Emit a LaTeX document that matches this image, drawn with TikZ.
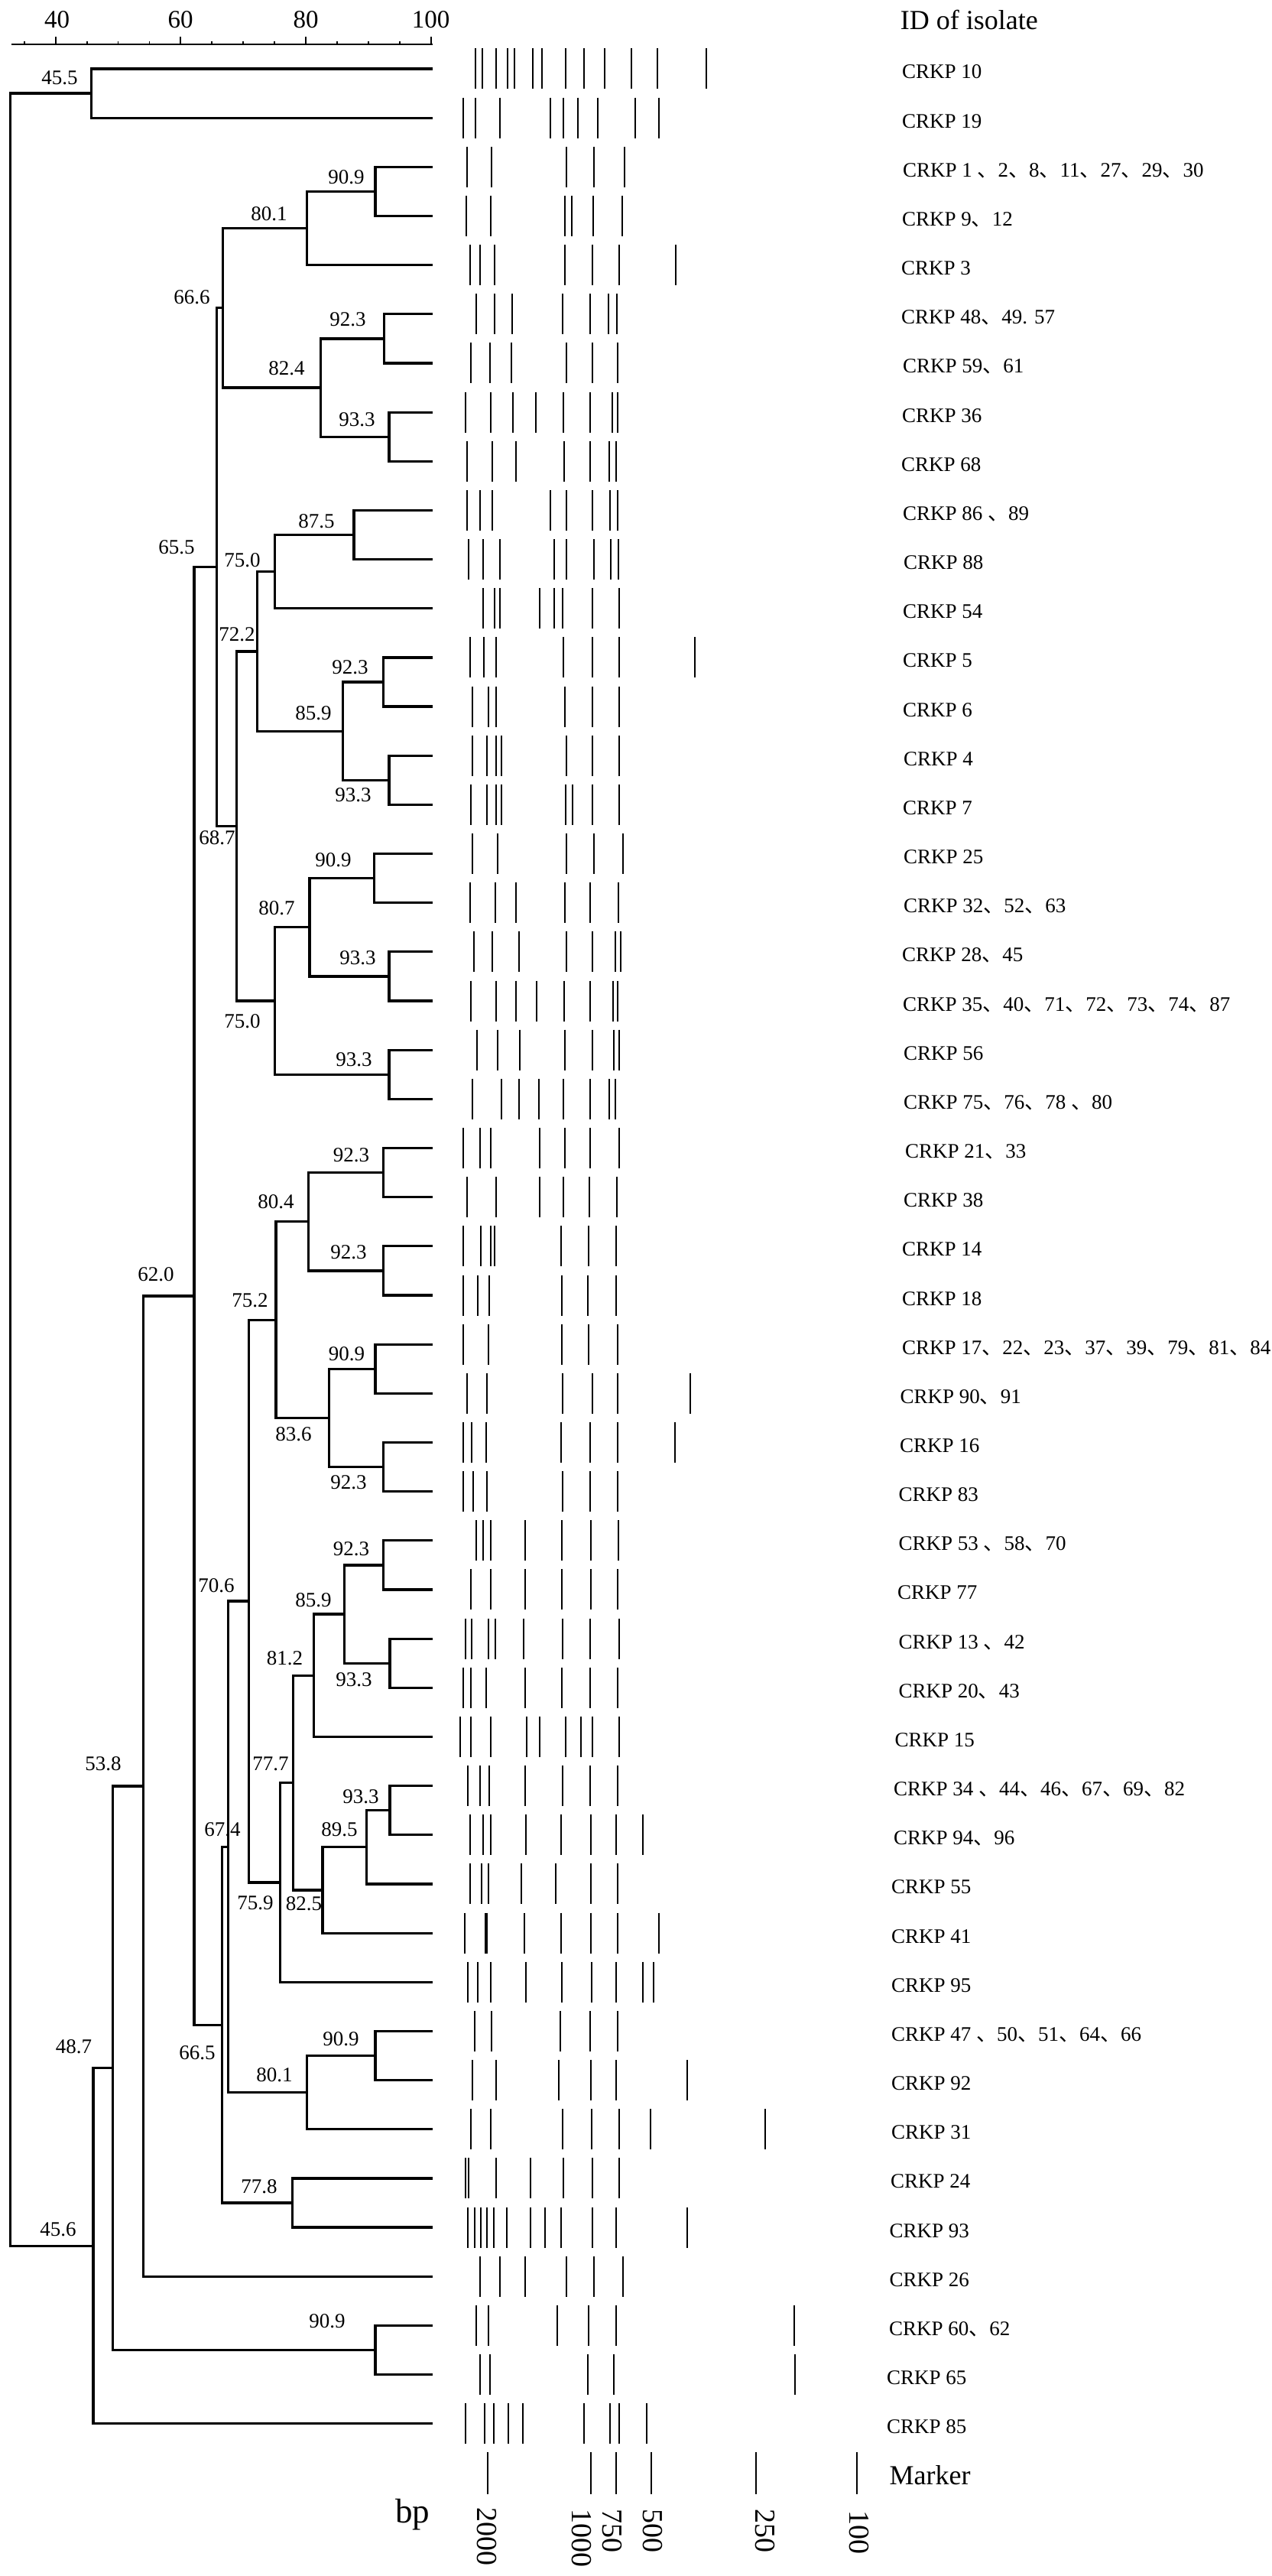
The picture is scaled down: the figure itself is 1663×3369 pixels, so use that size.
\documentclass[tikz,border=0pt]{standalone}
\usepackage{fontspec}
\setmainfont{Liberation Serif}
\newfontfamily\cjkfont{Noto Sans CJK SC}
\newcommand\dunhao{{\cjkfont 、}}
\newcommand\dgjoin[3]{\draw[tree] (#2) -| (#1 |- #3) -- (#3);}
\begin{document}
\begin{tikzpicture}[x=1pt,y=-1pt,
  tree/.style={line width=3.2pt,line join=miter},
  band/.style={line width=2pt},
  axisline/.style={line width=2pt},
  tick/.style={line width=1.8pt},
  simlab/.style={font=\fontsize{27}{30}\selectfont,inner sep=0pt},
  leaflab/.style={font=\fontsize{27}{30}\selectfont,inner sep=0pt,anchor=base west},
  axlab/.style={font=\fontsize{33}{36}\selectfont,inner sep=0pt,anchor=base},
  bplab/.style={font=\fontsize{38}{40}\selectfont,inner sep=0pt,anchor=west,rotate=-90}]
\useasboundingbox (0,0) rectangle (1663,3369);

% ---------- scale axis ----------
\draw[axisline] (14.5,58.2) -- (565.6,58.2);
\foreach \v in {35,45,50,55,65,70,75,85,90,95}
  \draw[tick] ({72.7+(\v-40)*8.183},53.8) -- ({72.7+(\v-40)*8.183},58.2);
\foreach \v in {40,60,80,100}
  \draw[tick] ({72.7+(\v-40)*8.183},48.3) -- ({72.7+(\v-40)*8.183},58.2);
\node[axlab] (ax40) at (74.6,36.4) {40};
\node[axlab] (ax60) at (236,36.4) {60};
\node[axlab] (ax80) at (400,36.4) {80};
\node[axlab] (ax100) at (563.5,36.4) {100};

% ---------- leaf ends ----------
\foreach \i in {1,...,49}
  \coordinate (e\i) at (566,{90+(\i-1)*64.16});

% ---------- internal nodes ----------
\coordinate (nP) at (491,250.4);
\coordinate (nO) at (401.8,298.5);
\coordinate (nR) at (502.5,442.9);
\coordinate (nS) at (509,571.2);
\coordinate (nQ) at (419.8,507.05);
\coordinate (nG) at (291.6,402.8);
\coordinate (nK) at (463,699.5);
\coordinate (nJ) at (359.7,747.65);
\coordinate (nM) at (501.3,892);
\coordinate (nN) at (509,1020.3);
\coordinate (nL) at (448.5,956.15);
\coordinate (nI) at (336.8,851.9);
\coordinate (nV) at (489.8,1148.65);
\coordinate (nW) at (509,1276.95);
\coordinate (nU) at (404.9,1212.8);
\coordinate (nX) at (509,1405.3);
\coordinate (nT) at (359.7,1309.05);
\coordinate (nH) at (309.2,1080.5);
\coordinate (nF) at (283.2,741.65);
\coordinate (nCa) at (501.3,1533.6);
\coordinate (nCb) at (501.3,1661.9);
\coordinate (nCC) at (403.7,1597.75);
\coordinate (nDa) at (491,1790.25);
\coordinate (nDb) at (501.3,1918.55);
\coordinate (nDD) at (430.5,1854.4);
\coordinate (nBB) at (360.9,1726.1);
\coordinate (nHa) at (501.3,2046.9);
\coordinate (nHb) at (510,2175.2);
\coordinate (nHH) at (450.4,2111.05);
\coordinate (nGG) at (410.2,2191.2);
\coordinate (nJa) at (510,2367.7);
\coordinate (nJJ) at (479.5,2415.8);
\coordinate (nII) at (422,2471.95);
\coordinate (nFF) at (383.5,2331.6);
\coordinate (nEE) at (366.6,2461.9);
\coordinate (nAA) at (325.3,2094);
\coordinate (nNa) at (491,2688.5);
\coordinate (nNe) at (401.8,2736.6);
\coordinate (nZ) at (298.5,2415.3);
\coordinate (nNf) at (382.7,2881);
\coordinate (nY) at (290.5,2648.2);
\coordinate (nE) at (254,1694.9);
\coordinate (nD) at (187.5,2336);
\coordinate (nNg) at (491,3073.5);
\coordinate (nC) at (147.3,2704.75);
\coordinate (nB) at (122,2937.2);
\coordinate (nA) at (119.4,122.1);
\coordinate (nRoot) at (13.4,1529.65);

% ---------- dendrogram ----------
\dgjoin{nRoot}{nA}{nB}
\dgjoin{nA}{e1}{e2}
\dgjoin{nB}{nC}{e49}
\dgjoin{nC}{nD}{nNg}
\dgjoin{nNg}{e47}{e48}
\dgjoin{nD}{nE}{e46}
\dgjoin{nE}{nF}{nY}
\dgjoin{nF}{nG}{nH}
\dgjoin{nG}{nO}{nQ}
\dgjoin{nO}{nP}{e5}
\dgjoin{nP}{e3}{e4}
\dgjoin{nQ}{nR}{nS}
\dgjoin{nR}{e6}{e7}
\dgjoin{nS}{e8}{e9}
\dgjoin{nH}{nI}{nT}
\dgjoin{nI}{nJ}{nL}
\dgjoin{nJ}{nK}{e12}
\dgjoin{nK}{e10}{e11}
\dgjoin{nL}{nM}{nN}
\dgjoin{nM}{e13}{e14}
\dgjoin{nN}{e15}{e16}
\dgjoin{nT}{nU}{nX}
\dgjoin{nU}{nV}{nW}
\dgjoin{nV}{e17}{e18}
\dgjoin{nW}{e19}{e20}
\dgjoin{nX}{e21}{e22}
\dgjoin{nY}{nZ}{nNf}
\dgjoin{nNf}{e44}{e45}
\dgjoin{nZ}{nAA}{nNe}
\dgjoin{nNe}{nNa}{e43}
\dgjoin{nNa}{e41}{e42}
\dgjoin{nAA}{nBB}{nEE}
\dgjoin{nBB}{nCC}{nDD}
\dgjoin{nCC}{nCa}{nCb}
\dgjoin{nCa}{e23}{e24}
\dgjoin{nCb}{e25}{e26}
\dgjoin{nDD}{nDa}{nDb}
\dgjoin{nDa}{e27}{e28}
\dgjoin{nDb}{e29}{e30}
\dgjoin{nEE}{nFF}{e40}
\dgjoin{nFF}{nGG}{nII}
\dgjoin{nGG}{nHH}{e35}
\dgjoin{nHH}{nHa}{nHb}
\dgjoin{nHa}{e31}{e32}
\dgjoin{nHb}{e33}{e34}
\dgjoin{nII}{nJJ}{e39}
\dgjoin{nJJ}{nJa}{e38}
\dgjoin{nJa}{e36}{e37}

% ---------- similarity values ----------
\node[simlab] (s1) at (78,102) {45.5};
\node[simlab] (s2) at (76,2916) {45.6};
\node[simlab] (s3) at (96.6,2676.5) {48.7};
\node[simlab] (s4) at (135,2307) {53.8};
\node[simlab] (s5) at (204,1667) {62.0};
\node[simlab] (s6) at (231,716) {65.5};
\node[simlab] (s7) at (251,389) {66.6};
\node[simlab] (s8) at (352,280) {80.1};
\node[simlab] (s9) at (453,232) {90.9};
\node[simlab] (s10) at (375,482) {82.4};
\node[simlab] (s11) at (455,418) {92.3};
\node[simlab] (s12) at (467,549) {93.3};
\node[simlab] (s13) at (414,682) {87.5};
\node[simlab] (s14) at (317,733) {75.0};
\node[simlab] (s15) at (310,830) {72.2};
\node[simlab] (s16) at (458,873) {92.3};
\node[simlab] (s17) at (410,933) {85.9};
\node[simlab] (s18) at (462,1040) {93.3};
\node[simlab] (s19) at (284,1096) {68.7};
\node[simlab] (s20) at (436,1124.5) {90.9};
\node[simlab] (s21) at (362,1188) {80.7};
\node[simlab] (s22) at (468,1253) {93.3};
\node[simlab] (s23) at (317,1336) {75.0};
\node[simlab] (s24) at (463,1386) {93.3};
\node[simlab] (s25) at (459.5,1511) {92.3};
\node[simlab] (s26) at (361,1572) {80.4};
\node[simlab] (s27) at (456,1637.5) {92.3};
\node[simlab] (s28) at (327,1701) {75.2};
\node[simlab] (s29) at (453.5,1771) {90.9};
\node[simlab] (s30) at (384,1876) {83.6};
\node[simlab] (s31) at (456,1939) {92.3};
\node[simlab] (s32) at (459.6,2026) {92.3};
\node[simlab] (s33) at (283,2074) {70.6};
\node[simlab] (s34) at (410,2093) {85.9};
\node[simlab] (s35) at (372.5,2169) {81.2};
\node[simlab] (s36) at (463,2196.5) {93.3};
\node[simlab] (s37) at (354,2307) {77.7};
\node[simlab] (s38) at (472,2349.5) {93.3};
\node[simlab] (s39) at (444,2393) {89.5};
\node[simlab] (s40) at (291,2393) {67.4};
\node[simlab] (s41) at (334,2488.5) {75.9};
\node[simlab] (s42) at (397.5,2490) {82.5};
\node[simlab] (s43) at (446,2666.5) {90.9};
\node[simlab] (s44) at (258,2685) {66.5};
\node[simlab] (s45) at (359,2714) {80.1};
\node[simlab] (s46) at (339,2860) {77.8};
\node[simlab] (s47) at (428,3036) {90.9};

% ---------- gel bands ----------
\foreach \r/\bl in {
 1/{88,101,126,148,161,195,212,256,290,328,378,427,518},
 2/{66,88,133,228,252,278,316,385,430},
 3/{73,118,258,308,365},
 4/{71,117,255,267,307,361},
 5/{78,96,124,255,306,356,460},
 6/{89,123,157,250,301,335,351},
 7/{80,115,155,258,305,353},
 8/{70,116,158,200,252,301,342,352},
 9/{73,119,163,253,302,337,350},
 10/{72,97,120,228,257,306,339,353},
 11/{76,103,133,234,258,309,340,354},
 12/{103,124,133,208,234,250,305,355},
 13/{78,104,127,252,305,355,496},
 14/{83,112,127,254,305,355},
 15/{83,110,126,136,258,305,355},
 16/{80,110,127,137,256,268,305,356},
 17/{83,129,258,309,362},
 18/{78,125,163,255,301,354},
 19/{85,120,169,258,306,348,358},
 20/{79,126,163,202,253,301,344,352},
 21/{91,130,171,255,305,345,355},
 22/{83,136,169,206,251,301,337,348},
 23/{66,96,117,207,255,301,355},
 24/{73,127,207,251,300,351},
 25/{66,98,117,124,248,298,350},
 26/{66,93,114,249,297,350},
 27/{66,112,249,299,352},
 28/{72,110,250,305,352,488},
 29/{66,81,108,248,301,352,459},
 30/{66,84,110,250,301,352},
 31/{89,102,117,180,249,303,354},
 32/{79,116,180,249,303,352},
 33/{70,81,113,125,178,250,302,355},
 34/{66,80,108,180,249,302,352},
 35/{60,79,117,183,207,256,285,305,356},
 36/{74,96,114,181,250,302,353},
 37/{78,102,117,182,248,303,349,400},
 38/{78,100,112,173,238,303,352},
 39/{68,106,110,179,248,303,352,430},
 40/{74,92,116,182,249,304,349,400,419},
 41/{86,118,246,302,352},
 42/{82,126,243,303,349,482},
 43/{79,117,250,304,355,413,627},
 44/{70,76,127,191,252,305,355},
 45/{74,86,98,109,122,147,191,218,247,305,349,482},
 46/{96,133,180,257,309,362},
 47/{89,112,240,298,349,681},
 48/{96,115,297,346,682},
 49/{69,105,122,149,176,290,338,355,407}}{
  \foreach \d in \bl
    \draw[band] ({560+\d*0.70343},{90+(\r-1)*64.16-26.5}) -- ({560+\d*0.70343},{90+(\r-1)*64.16+26.5});
}
\foreach \d in {111,303,350,415,610,797}
  \draw[band] ({560+\d*0.70343},3207) -- ({560+\d*0.70343},3262);

% ---------- isolate labels ----------
\node[inner sep=0pt,anchor=base west,font=\fontsize{36}{40}\selectfont] (idhead) at (1177.6,38.2) {ID of isolate};
\node[leaflab] (l1) at (1180,103) {CRKP 10};
\node[leaflab] (l2) at (1180,167.16) {CRKP 19};
\node[leaflab] (l3) at (1181,231.32) {CRKP 1 \dunhao 2\dunhao 8\dunhao 11\dunhao 27\dunhao 29\dunhao 30};
\node[leaflab] (l4) at (1180,295.48) {CRKP 9\dunhao 12};
\node[leaflab] (l5) at (1179,359.64) {CRKP 3};
\node[leaflab] (l6) at (1179,423.8) {CRKP 48\dunhao 49. 57};
\node[leaflab] (l7) at (1181,487.96) {CRKP 59\dunhao 61};
\node[leaflab] (l8) at (1180,552.12) {CRKP 36};
\node[leaflab] (l9) at (1179,616.28) {CRKP 68};
\node[leaflab] (l10) at (1181,680.44) {CRKP 86 \dunhao 89};
\node[leaflab] (l11) at (1182,744.6) {CRKP 88};
\node[leaflab] (l12) at (1181,808.76) {CRKP 54};
\node[leaflab] (l13) at (1181,872.92) {CRKP 5};
\node[leaflab] (l14) at (1181,937.08) {CRKP 6};
\node[leaflab] (l15) at (1182,1001.24) {CRKP 4};
\node[leaflab] (l16) at (1181,1065.4) {CRKP 7};
\node[leaflab] (l17) at (1182,1129.56) {CRKP 25};
\node[leaflab] (l18) at (1182,1193.72) {CRKP 32\dunhao 52\dunhao 63};
\node[leaflab] (l19) at (1180,1257.88) {CRKP 28\dunhao 45};
\node[leaflab] (l20) at (1181,1322.04) {CRKP 35\dunhao 40\dunhao 71\dunhao 72\dunhao 73\dunhao 74\dunhao 87};
\node[leaflab] (l21) at (1182,1386.2) {CRKP 56};
\node[leaflab] (l22) at (1182,1450.36) {CRKP 75\dunhao 76\dunhao 78 \dunhao 80};
\node[leaflab] (l23) at (1184,1514.52) {CRKP 21\dunhao 33};
\node[leaflab] (l24) at (1182,1578.68) {CRKP 38};
\node[leaflab] (l25) at (1180,1642.84) {CRKP 14};
\node[leaflab] (l26) at (1180,1707) {CRKP 18};
\node[leaflab] (l27) at (1180,1771.16) {CRKP 17\dunhao 22\dunhao 23\dunhao 37\dunhao 39\dunhao 79\dunhao 81\dunhao 84};
\node[leaflab] (l28) at (1177.5,1835.32) {CRKP 90\dunhao 91};
\node[leaflab] (l29) at (1177,1899.48) {CRKP 16};
\node[leaflab] (l30) at (1175.5,1963.64) {CRKP 83};
\node[leaflab] (l31) at (1175.5,2027.8) {CRKP 53 \dunhao 58\dunhao 70};
\node[leaflab] (l32) at (1174,2091.96) {CRKP 77};
\node[leaflab] (l33) at (1175.5,2156.12) {CRKP 13 \dunhao 42};
\node[leaflab] (l34) at (1175.5,2220.28) {CRKP 20\dunhao 43};
\node[leaflab] (l35) at (1170.5,2284.44) {CRKP 15};
\node[leaflab] (l36) at (1169,2348.6) {CRKP 34 \dunhao 44\dunhao 46\dunhao 67\dunhao 69\dunhao 82};
\node[leaflab] (l37) at (1169,2412.76) {CRKP 94\dunhao 96};
\node[leaflab] (l38) at (1166,2476.92) {CRKP 55};
\node[leaflab] (l39) at (1166,2541.08) {CRKP 41};
\node[leaflab] (l40) at (1166,2605.24) {CRKP 95};
\node[leaflab] (l41) at (1166,2669.4) {CRKP 47 \dunhao 50\dunhao 51\dunhao 64\dunhao 66};
\node[leaflab] (l42) at (1166,2733.56) {CRKP 92};
\node[leaflab] (l43) at (1166,2797.72) {CRKP 31};
\node[leaflab] (l44) at (1165,2861.88) {CRKP 24};
\node[leaflab] (l45) at (1163.5,2926.04) {CRKP 93};
\node[leaflab] (l46) at (1163.5,2990.2) {CRKP 26};
\node[leaflab] (l47) at (1163,3054.36) {CRKP 60\dunhao 62};
\node[leaflab] (l48) at (1160,3118.52) {CRKP 65};
\node[leaflab] (l49) at (1160,3182.68) {CRKP 85};
\node[inner sep=0pt,anchor=base west,font=\fontsize{36}{40}\selectfont] (marker) at (1163.5,3249) {Marker};

% ---------- marker sizes ----------
\node[inner sep=0pt,anchor=base west,font=\fontsize{45}{48}\selectfont] (bp) at (517,3299) {bp};
\node[bplab] (m2000) at (637.4,3279) {2000};
\node[bplab] (m1000) at (760.5,3281) {1000};
\node[bplab] (m750) at (801.3,3281) {750};
\node[bplab] (m500) at (854,3281) {500};
\node[bplab] (m250) at (1001,3281) {250};
\node[bplab] (m100) at (1124,3283) {100};
\end{tikzpicture}
\end{document}
